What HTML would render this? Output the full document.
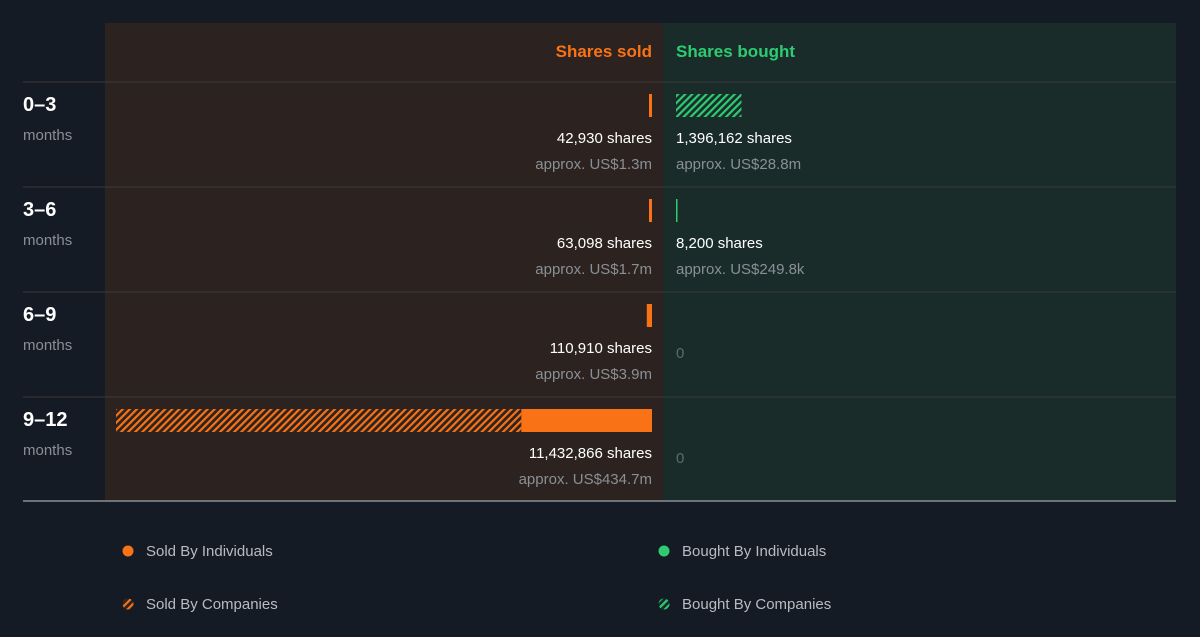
<!DOCTYPE html>
<html><head><meta charset="utf-8"><style>
body{margin:0;background:#151b24;font-family:"Liberation Sans",sans-serif}
svg{display:block}
</style></head><body>
<svg id="c" width="1200" height="637" xmlns="http://www.w3.org/2000/svg">
<defs>
<pattern id="hatchO" width="5" height="5" patternUnits="userSpaceOnUse" patternTransform="rotate(45)"><rect width="5" height="5" fill="#2c2320"/><rect width="2.2" height="5" fill="#f97316"/></pattern>
<pattern id="hatchG" width="5" height="5" patternUnits="userSpaceOnUse" patternTransform="rotate(45)"><rect width="5" height="5" fill="#192c2a"/><rect width="2.2" height="5" fill="#2ecc71"/></pattern>
</defs>
<rect x="105" y="23" width="558" height="478" fill="#2c2320"/>
<rect x="663" y="23" width="513" height="478" fill="#192c2a"/>
<text x="652" y="57" text-anchor="end" fill="#f97316" font-size="17" font-weight="bold">Shares sold</text>
<text x="676" y="57" fill="#2ecc71" font-size="17" font-weight="bold">Shares bought</text>
<g id="rows"></g>
<line x1="23" y1="501" x2="1176" y2="501" stroke="#8a8f96" stroke-width="1.5"/>
<g>
<circle cx="128" cy="551" r="5.5" fill="#f97316"/>
<text x="146" y="556" fill="#b8bcc2" font-size="15">Sold By Individuals</text>
<circle cx="128" cy="604" r="5.5" fill="url(#hatchO)"/>
<text x="146" y="609" fill="#b8bcc2" font-size="15">Sold By Companies</text>
<circle cx="664" cy="551" r="5.5" fill="#2ecc71"/>
<text x="682" y="556" fill="#b8bcc2" font-size="15">Bought By Individuals</text>
<circle cx="664" cy="604" r="5.5" fill="url(#hatchG)"/>
<text x="682" y="609" fill="#b8bcc2" font-size="15">Bought By Companies</text>
</g>
</svg>
<script>
const periods = ["0–3","3–6","6–9","9–12"];
const soldIndividuals = [42930, 63098, 110910, 2790000];
const soldCompanies = [0, 0, 0, 8642866];
const boughtIndividuals = [0, 8200, 0, 0];
const boughtCompanies = [1396162, 0, 0, 0];
const soldValue = ["US$1.3m","US$1.7m","US$3.9m","US$434.7m"];
const boughtValue = ["US$28.8m","US$249.8k","",""];

const NS="http://www.w3.org/2000/svg";
const g=document.getElementById('rows');
const maxV=Math.max(...periods.map((p,i)=>soldIndividuals[i]+soldCompanies[i]),...periods.map((p,i)=>boughtIndividuals[i]+boughtCompanies[i]));
const scale=v=>v/maxV*536;
const w=v=>v>0?Math.max(scale(v),v>20000?3:1.5):0;
function el(t,a,txt){const e=document.createElementNS(NS,t);for(const k in a)e.setAttribute(k,a[k]);if(txt!==undefined)e.textContent=txt;g.appendChild(e);return e;}
const fmt=n=>n.toLocaleString('en-US');
periods.forEach((p,i)=>{
  const top=82+i*105;
  let e=el('line',{x1:23,y1:top,x2:1176,y2:top,stroke:'#3d3a3a','stroke-width':1});
  
  
  e=el('text',{x:23,y:top+29,fill:'#fff','font-size':20,'font-weight':'bold'},p);
  
  
  e=el('text',{x:23,y:top+58,fill:'#8a8f96','font-size':15},'months');
  
  
  const by=top+12,bh=23;
  const wi=w(soldIndividuals[i]), wc=w(soldCompanies[i]);
  if(wi>0){e=el('rect',{x:652-wi,y:by,width:wi,height:bh,fill:'#f97316'});
    
    }
  if(wc>0){e=el('rect',{x:652-wi-wc,y:by,width:wc,height:bh,fill:'url(#hatchO)'});
    
    }
  const bi=w(boughtIndividuals[i]), bc=w(boughtCompanies[i]);
  if(bi>0){e=el('rect',{x:676,y:by,width:bi,height:bh,fill:'#2ecc71'});
    
    }
  if(bc>0){e=el('rect',{x:676+bi,y:by,width:bc,height:bh,fill:'url(#hatchG)'});
    
    }
  const s=soldIndividuals[i]+soldCompanies[i], b=boughtIndividuals[i]+boughtCompanies[i];
  e=el('text',{x:652,y:top+61,'text-anchor':'end',fill:'#fff','font-size':15},fmt(s)+' shares');
  
  
  e=el('text',{x:652,y:top+87,'text-anchor':'end',fill:'#8a8f96','font-size':15},'approx. '+soldValue[i]);
  
  
  if(b>0){
    e=el('text',{x:676,y:top+61,fill:'#fff','font-size':15},fmt(b)+' shares');
    
    
    e=el('text',{x:676,y:top+87,fill:'#8a8f96','font-size':15},'approx. '+boughtValue[i]);
    
    
  } else {
    e=el('text',{x:676,y:top+66,fill:'#5f6a68','font-size':15},'0');
    
    
  }
});
</script>
</body></html>
